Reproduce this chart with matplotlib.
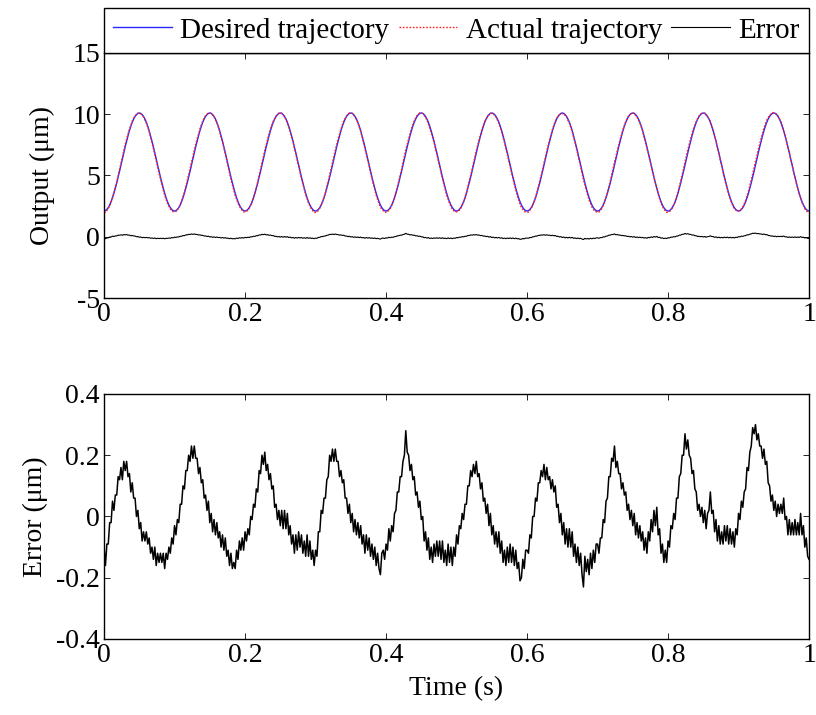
import numpy as np
import matplotlib
matplotlib.use("Agg")
import matplotlib.pyplot as plt

plt.rcParams['font.family'] = ['Liberation Serif', 'DejaVu Serif']
plt.rcParams['axes.unicode_minus'] = False

# One 0.1 s cycle of the 10 Hz reference trajectory (um), 0.002 s steps
desired_cycle = [2.10, 2.13, 2.23, 2.38, 2.59, 2.86, 3.18, 3.55, 3.96, 4.40,
                 4.86, 5.35, 5.85, 6.35, 6.85, 7.34, 7.80, 8.24, 8.65, 9.02,
                 9.34, 9.61, 9.82, 9.97, 10.07, 10.10, 10.07, 9.97, 9.82, 9.61,
                 9.34, 9.02, 8.65, 8.24, 7.80, 7.34, 6.85, 6.35, 5.85, 5.35,
                 4.86, 4.40, 3.96, 3.55, 3.18, 2.86, 2.59, 2.38, 2.23, 2.13]

# Tracking error (um), 0.002 s steps, five rows per 0.1 s
error_um = [
    -0.10, -0.16, -0.09, -0.09, -0.02, -0.02, 0.05, 0.02, 0.07, 0.07,
    0.13, 0.12, 0.16, 0.12, 0.18, 0.15, 0.18, 0.13, 0.14, 0.08,
    0.11, 0.06, 0.06, 0.00, 0.02, -0.04, -0.02, -0.08, -0.05, -0.08,
    -0.05, -0.09, -0.07, -0.12, -0.10, -0.14, -0.10, -0.16, -0.12, -0.15,
    -0.12, -0.15, -0.12, -0.17, -0.12, -0.14, -0.10, -0.12, -0.07, -0.09,

    -0.03, -0.06, -0.01, -0.02, 0.04, 0.04, 0.10, 0.09, 0.15, 0.15,
    0.20, 0.18, 0.23, 0.19, 0.23, 0.19, 0.19, 0.14, 0.16, 0.11,
    0.12, 0.06, 0.07, 0.02, 0.05, -0.02, 0.01, -0.05, -0.01, -0.06,
    -0.02, -0.07, -0.05, -0.10, -0.06, -0.11, -0.07, -0.13, -0.11, -0.16,
    -0.12, -0.17, -0.15, -0.17, -0.11, -0.14, -0.08, -0.11, -0.07, -0.11,

    -0.05, -0.08, -0.04, -0.06, 0.00, -0.01, 0.04, 0.03, 0.09, 0.08,
    0.15, 0.14, 0.20, 0.17, 0.21, 0.15, 0.17, 0.12, 0.14, 0.09,
    0.10, 0.03, 0.04, -0.01, 0.02, -0.03, 0.02, -0.04, 0.02, -0.04,
    0.01, -0.06, -0.03, -0.09, -0.06, -0.12, -0.06, -0.11, -0.05, -0.10,
    -0.06, -0.12, -0.08, -0.13, -0.06, -0.13, -0.08, -0.14, -0.11, -0.16,

    -0.11, -0.13, -0.05, -0.05, 0.02, 0.01, 0.06, 0.06, 0.12, 0.13,
    0.20, 0.18, 0.22, 0.18, 0.22, 0.18, 0.18, 0.13, 0.15, 0.11,
    0.12, 0.06, 0.06, 0.01, 0.04, -0.02, 0.01, -0.05, -0.01, -0.06,
    -0.02, -0.07, -0.03, -0.09, -0.06, -0.12, -0.06, -0.11, -0.07, -0.13,
    -0.09, -0.14, -0.10, -0.16, -0.12, -0.17, -0.19, -0.12, -0.11, -0.14,

    -0.09, -0.11, -0.04, -0.08, -0.03, -0.05, 0.01, 0.02, 0.08, 0.08,
    0.13, 0.13, 0.18, 0.20, 0.28, 0.21, 0.20, 0.15, 0.17, 0.12,
    0.13, 0.07, 0.08, 0.03, 0.05, -0.01, 0.00, -0.08, -0.05, -0.11,
    -0.07, -0.14, -0.10, -0.15, -0.09, -0.13, -0.08, -0.13, -0.08, -0.14,
    -0.08, -0.15, -0.11, -0.16, -0.09, -0.15, -0.10, -0.16, -0.10, -0.13,

    -0.06, -0.09, -0.03, -0.04, 0.01, -0.01, 0.04, 0.04, 0.10, 0.10,
    0.15, 0.13, 0.17, 0.14, 0.18, 0.13, 0.14, 0.09, 0.11, 0.05,
    0.06, 0.01, 0.04, -0.03, 0.01, -0.06, -0.03, -0.09, -0.05, -0.10,
    -0.05, -0.12, -0.08, -0.15, -0.11, -0.16, -0.10, -0.15, -0.09, -0.15,
    -0.10, -0.16, -0.11, -0.17, -0.15, -0.21, -0.20, -0.14, -0.17, -0.11,

    -0.11, -0.12, -0.06, -0.07, 0.00, 0.00, 0.06, 0.05, 0.11, 0.11,
    0.15, 0.13, 0.17, 0.12, 0.16, 0.12, 0.13, 0.09, 0.12, 0.08,
    0.10, 0.03, 0.04, -0.02, 0.01, -0.06, -0.02, -0.09, -0.04, -0.10,
    -0.04, -0.10, -0.05, -0.13, -0.09, -0.15, -0.10, -0.16, -0.12, -0.19,
    -0.23, -0.13, -0.18, -0.14, -0.19, -0.12, -0.17, -0.11, -0.15, -0.09,

    -0.09, -0.12, -0.07, -0.07, -0.01, -0.02, 0.05, 0.06, 0.13, 0.13,
    0.19, 0.18, 0.23, 0.16, 0.18, 0.14, 0.14, 0.09, 0.11, 0.07,
    0.08, 0.02, 0.04, -0.01, 0.02, -0.03, 0.01, -0.06, -0.02, -0.07,
    -0.03, -0.08, -0.05, -0.11, -0.07, -0.12, -0.05, -0.08, -0.01, -0.05,
    0.02, -0.03, 0.03, -0.06, -0.04, -0.12, -0.09, -0.15, -0.11, -0.15,

    -0.08, -0.10, -0.03, -0.04, 0.01, -0.01, 0.06, 0.06, 0.13, 0.14,
    0.20, 0.20, 0.27, 0.22, 0.25, 0.20, 0.19, 0.14, 0.15, 0.09,
    0.08, 0.02, 0.04, 0.00, 0.03, -0.02, 0.02, -0.04, 0.01, 0.02,
    0.08, 0.01, 0.02, -0.05, -0.01, -0.08, -0.03, -0.09, -0.05, -0.09,
    -0.03, -0.08, -0.03, -0.09, -0.04, -0.09, -0.05, -0.10, -0.04, -0.06,

    0.01, -0.01, 0.05, 0.03, 0.08, 0.09, 0.16, 0.15, 0.21, 0.23,
    0.29, 0.27, 0.30, 0.25, 0.27, 0.23, 0.23, 0.19, 0.22, 0.17,
    0.18, 0.11, 0.10, 0.05, 0.07, 0.02, 0.05, 0.00, 0.04, 0.01,
    0.04, 0.01, 0.06, -0.01, 0.00, -0.06, -0.01, -0.06, -0.02, -0.06,
    -0.01, -0.06, -0.02, -0.06, 0.01, -0.06, -0.03, -0.10, -0.07, -0.13,
    -0.14,
]

x_ticks = [0, 0.2, 0.4, 0.6, 0.8, 1]
x_tick_labels = ['0', '0.2', '0.4', '0.6', '0.8', '1']
out_ticks = [-5, 0, 5, 10, 15]
out_tick_labels = ['-5', '0', '5', '10', '15']
err_ticks = [-0.4, -0.2, 0, 0.2, 0.4]
err_tick_labels = ['-0.4', '-0.2', '0', '0.2', '0.4']
legend_labels = ['Desired trajectory', 'Actual trajectory', 'Error']

error = np.array(error_um)
t = np.linspace(0.0, 1.0, len(error))
desired = np.resize(np.array(desired_cycle), len(error))
actual = desired + error

FS = 20
fig = plt.figure(figsize=(8.16, 7.15), dpi=100)
ax1 = fig.add_axes([0.1275, 0.5832, 0.8640, 0.3427])
ax2 = fig.add_axes([0.1275, 0.1063, 0.8640, 0.3427])


def style(ax):
    for s in ax.spines.values():
        s.set_linewidth(1.0)
        s.set_color('black')
    ax.tick_params(direction='in', top=True, right=True, length=4.5,
                   width=0.6, labelsize=FS, pad=3)
    ax.set_xlim(0, 1)
    ax.set_xticks(x_ticks)
    ax.set_xticklabels(x_tick_labels)


h1, = ax1.plot(t, desired, color='#2828ff', lw=1.0, label=legend_labels[0])
h2, = ax1.plot(t, actual, color='#ff2020', lw=1.0, ls=(0, (1.2, 1.2)),
               label=legend_labels[1])
h3, = ax1.plot(t, error, color='black', lw=0.8, label=legend_labels[2])
style(ax1)
ax1.set_ylim(-5, 15)
ax1.set_yticks(out_ticks)
ax1.set_yticklabels(out_tick_labels)
ax1.set_ylabel('Output (μm)', fontsize=FS, labelpad=12)

leg = ax1.legend(handles=[h1, h2, h3], loc='lower left',
                 bbox_to_anchor=(0.0, 1.0, 1.0, 0.1), mode='expand', ncol=3,
                 borderaxespad=0.0, fontsize=21, frameon=True, fancybox=False,
                 edgecolor='black', framealpha=1, handlelength=2.0,
                 handletextpad=0.3, columnspacing=0.3, borderpad=0.32)
leg.get_frame().set_linewidth(1.0)

ax2.plot(t, error, color='black', lw=1.1)
style(ax2)
ax2.set_ylim(-0.4, 0.4)
ax2.set_yticks(err_ticks)
ax2.set_yticklabels(err_tick_labels)
ax2.set_ylabel('Error (μm)', fontsize=FS, labelpad=6)
ax2.set_xlabel('Time (s)', fontsize=FS, labelpad=6)

fig.savefig('out.png', dpi=100)
